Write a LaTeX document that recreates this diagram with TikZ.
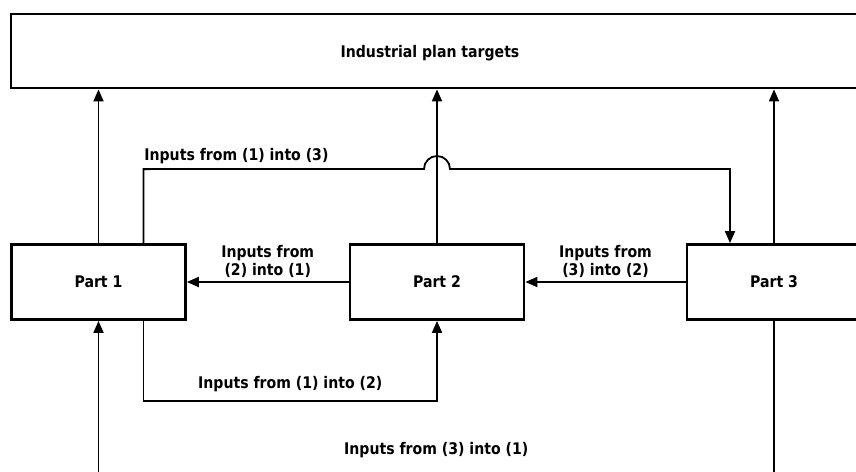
\documentclass[tikz,border=0pt]{standalone}
\usepackage{fontspec}
\setmainfont[FakeStretch=0.88]{DejaVu Sans}
\usetikzlibrary{arrows.meta}

\begin{document}
\begin{tikzpicture}[x=1pt,y=1pt,
	box/.style={draw,line width=2.8pt,minimum width=174pt,minimum height=75pt,font=\fontsize{16}{18}\selectfont\bfseries},
	link/.style={line width=1.8pt},
	arr/.style={link,-{Triangle[length=12pt,width=10pt]}},
	lbl/.style={font=\fontsize{16}{18}\selectfont\bfseries,align=center,inner sep=2pt}]
			\clip (0,0) rectangle (856,-471);
			\node[box,minimum width=860pt,minimum height=74pt,label={[lbl,xshift=-11pt,yshift=-2pt]center:Industrial plan targets}] (plan) at (441,-51) {};
			\node[box] (part1) at (98.5,-282) {Part 1};
			\node[box] (part2) at (437,-282) {Part 2};
			\node[box] (part3) at (774,-282) {Part 3};
			\draw[arr] (part1.north) -- (part1.north |- plan.south);
			\draw[arr] (part2.north) -- (part2.north |- plan.south);
			\draw[arr] (part3.north) -- (part3.north |- plan.south);
			\draw[arr] (part2.west) -- node[lbl,above=1pt]{Inputs from\\(2) into (1)} (part1.east);
			\draw[arr] (part3.west) -- node[lbl,above=1pt]{Inputs from\\(3) into (2)} (part2.east);
			\draw[arr] ([xshift=45pt]part1.north) -- ++(0,74) node[lbl,anchor=south west,inner xsep=0pt,yshift=2pt]{Inputs from (1) into (3)}
				-- (424,-169) arc[start angle=180,end angle=0,radius=13] -| ([xshift=-44pt]part3.north);
			\draw[arr] ([xshift=45pt]part1.south) -- ++(0,-80) -| node[lbl,pos=0.25,above=6pt]{Inputs from (1) into (2)} (part2.south);
			\draw[arr] (part3.south) -- ++(0,-170) -| node[lbl,pos=0.25,above=30pt]{Inputs from (3) into (1)} (part1.south);
\end{tikzpicture}
\end{document}
